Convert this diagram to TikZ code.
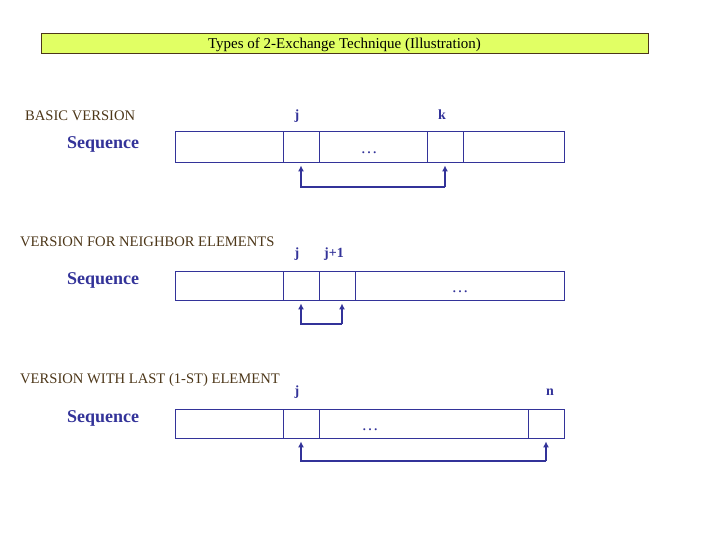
\documentclass[tikz,border=0pt]{standalone}
\usepackage{fontspec}
\setmainfont{Liberation Serif}
\usetikzlibrary{arrows.meta}
\definecolor{navy}{RGB}{51,51,153}
\definecolor{brn}{RGB}{77,55,25}
\definecolor{ttl}{RGB}{225,255,100}
\tikzset{
  cell/.style={draw=navy, line width=0.9pt, anchor=north west, inner sep=0pt, minimum height=31pt},
  head/.style={anchor=west, inner sep=0pt, yshift=-1.5pt, text=brn, font=\fontsize{14.6}{15}\selectfont},
  seq/.style={anchor=west, inner sep=0pt, yshift=-1.5pt, text=navy, font=\fontsize{18}{18}\selectfont\bfseries},
  idx/.style={anchor=base, inner sep=0pt, text=navy, font=\fontsize{14}{14}\selectfont\bfseries},
  dots/.style={anchor=base, inner sep=0pt, text=navy, font=\fontsize{17}{17}\selectfont},
  swap/.style={draw=navy, line width=1.3pt, -{Latex[length=6pt,width=6pt]}}
}
\begin{document}
\begin{tikzpicture}[x=1pt,y=-1pt]
\useasboundingbox (0,0) rectangle (720,540);
% title
\node[draw=brn, fill=ttl, line width=0.8pt, minimum width=607pt, minimum height=20pt, inner sep=0pt, text depth=0pt, font=\fontsize{15}{15}\selectfont] (title) at (344.5,43) {Types of 2-Exchange Technique (Illustration)};

% ---------- row 1
\node[head] (h1) at (25,114) {BASIC VERSION};
\node[seq] (s1) at (67,143) {Sequence};
\node[cell, minimum width=108pt] (r1a) at (175,131) {};
\node[cell, minimum width=36pt] (r1j) at (283,131) {};
\node[cell, minimum width=108pt] (r1m) at (319,131) {};
\node[cell, minimum width=36pt] (r1k) at (427,131) {};
\node[cell, minimum width=101pt] (r1b) at (463,131) {};
\node[dots] (d1) at (369,154) {\ldots};
\node[idx] (l1j) at (297,120) {j};
\node[idx] (l1k) at (442,120) {k};
\coordinate (p1j) at (301,187);
\coordinate (p1k) at (445,187);
\draw[swap, shorten >=2.5pt] (p1k) -- (p1j) -- (p1j |- r1j.south);
\draw[swap, shorten >=2.5pt] (p1k) -- (p1k |- r1k.south);

% ---------- row 2
\node[head] (h2) at (20,240) {VERSION FOR NEIGHBOR ELEMENTS};
\node[seq] (s2) at (67,279) {Sequence};
\node[cell, minimum width=108pt, minimum height=29pt] (r2a) at (175,271) {};
\node[cell, minimum width=36pt, minimum height=29pt] (r2j) at (283,271) {};
\node[cell, minimum width=36pt, minimum height=29pt] (r2k) at (319,271) {};
\node[cell, minimum width=209pt, minimum height=29pt] (r2b) at (355,271) {};
\node[dots] (d2) at (460,292) {\ldots};
\node[idx] (l2j) at (297,258) {j};
\node[idx] (l2k) at (334,258) {j+1};
\coordinate (p2j) at (301,324);
\coordinate (p2k) at (342,324);
\draw[swap, shorten >=2.5pt] (p2k) -- (p2j) -- (p2j |- r2j.south);
\draw[swap, shorten >=2.5pt] (p2k) -- (p2k |- r2k.south);

% ---------- row 3
\node[head] (h3) at (20,378) {VERSION WITH LAST (1-ST) ELEMENT};
\node[seq] (s3) at (67,417) {Sequence};
\node[cell, minimum width=108pt, minimum height=29pt] (r3a) at (175,409) {};
\node[cell, minimum width=36pt, minimum height=29pt] (r3j) at (283,409) {};
\node[cell, minimum width=209pt, minimum height=29pt] (r3m) at (319,409) {};
\node[cell, minimum width=36pt, minimum height=29pt] (r3n) at (528,409) {};
\node[dots] (d3) at (370,430) {\ldots};
\node[idx] (l3j) at (297,395) {j};
\node[idx] (l3n) at (550,395) {n};
\coordinate (p3j) at (301,461);
\coordinate (p3n) at (546,461);
\draw[swap, shorten >=2.5pt] (p3n) -- (p3j) -- (p3j |- r3j.south);
\draw[swap, shorten >=2.5pt] (p3n) -- (p3n |- r3n.south);
\end{tikzpicture}
\end{document}
